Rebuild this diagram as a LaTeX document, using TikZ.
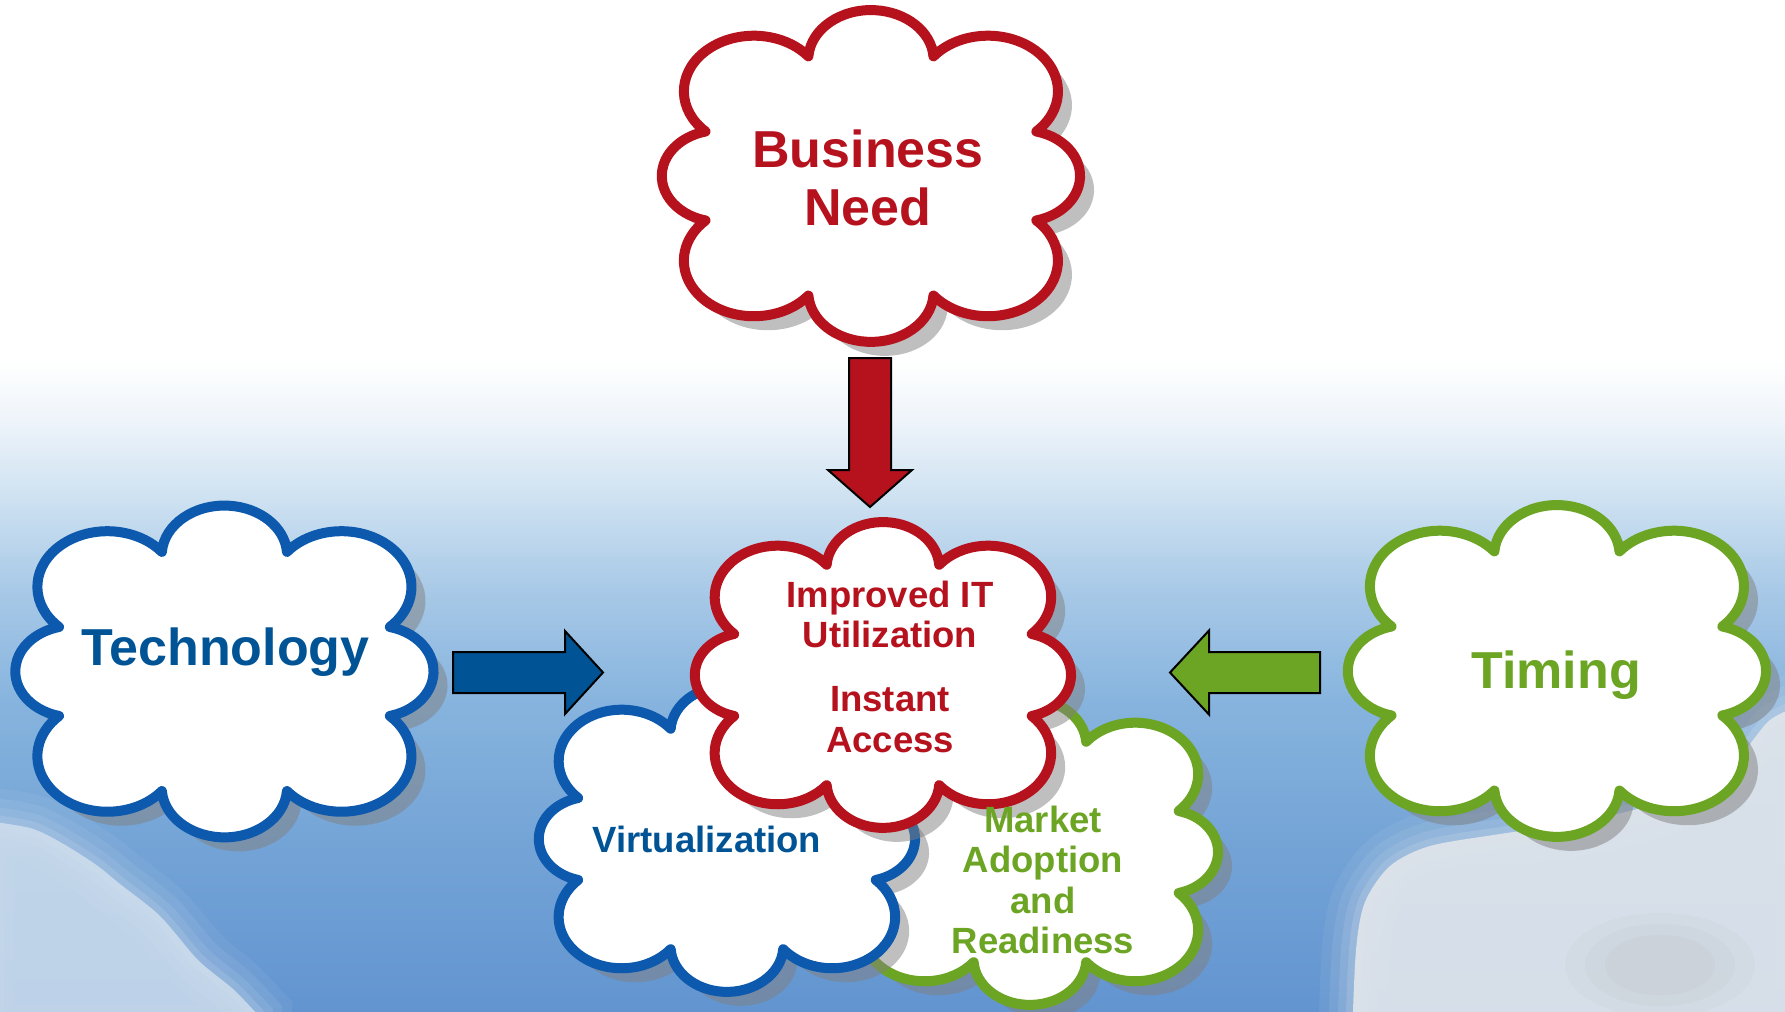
\documentclass[tikz,border=0pt]{standalone}
\usepackage{fontspec}
\setmainfont{Liberation Sans}
\usetikzlibrary{calc}

\definecolor{cred}{RGB}{182,18,30}
\definecolor{cblue}{RGB}{12,89,174}
\definecolor{cbluetext}{RGB}{0,84,150}
\definecolor{cgreen}{RGB}{108,164,36}
\definecolor{skyA}{RGB}{98,148,208}
\definecolor{skyB}{RGB}{115,163,214}
\definecolor{skyC}{RGB}{135,180,222}
\definecolor{skyD}{RGB}{168,201,231}
\definecolor{skyE}{RGB}{205,225,241}
\definecolor{skyF}{RGB}{238,244,250}
\definecolor{bgcl}{RGB}{212,225,238}
\definecolor{bgcr}{RGB}{224,229,235}

\pgfdeclareverticalshading{skyshade}{100bp}{color(0bp)=(skyA); color(25bp)=(skyA); color(33bp)=(skyB); color(40.4bp)=(skyC); color(45.85bp)=(skyD); color(50.3bp)=(skyE); color(54.25bp)=(skyF); color(57.2bp)=(white); color(75bp)=(white); color(100bp)=(white)}

% outline of a cloud in a unit box (eight puffs)
\newcommand\cloudoutline{(0.791,-0.268)
  arc[start angle=-76, end angle=76, radius=0.276]
  arc[start angle=-46.3, end angle=141.1, radius=0.335]
  arc[start angle=4, end angle=176, radius=0.30]
  arc[start angle=38.9, end angle=226.3, radius=0.335]
  arc[start angle=104, end angle=256, radius=0.276]
  arc[start angle=133.7, end angle=321.1, radius=0.335]
  arc[start angle=184, end angle=356, radius=0.30]
  arc[start angle=218.9, end angle=406.3, radius=0.335] -- cycle}

% #1 cx, #2 cy, #3 half width, #4 half height, #5 colour
\newcommand\drawcloud[5]{%
 \begin{scope}[shift={(#1+14,#2+14)}, xscale=#3-5, yscale=#4-5]
  \fill[cloudshadow] \cloudoutline;
 \end{scope}
 \begin{scope}[shift={(#1,#2)}, xscale=#3-5, yscale=#4-5]
  \filldraw[draw=#5, fill=white, line width=5pt, line join=round] \cloudoutline;
 \end{scope}}

\newcommand\bgleft{plot[smooth] coordinates {(-20,820) (30,828) (60,842) (95,864) (120,884) (160,916) (198,960) (233,989) (258,1015)} -- (258,1040) -- (-20,1040) -- cycle}
\newcommand\bgright{plot[smooth] coordinates {(1352,1040) (1356,950) (1365,902) (1390,866) (1430,846) (1500,834) (1580,822) (1660,802) (1730,766) (1770,720) (1810,702)} -- (1810,1040) -- cycle}

\tikzset{
  cloudshadow/.style={fill=black!50, fill opacity=0.5},
  blockarrow/.style={draw=black, line width=1pt, line join=miter},
  bigtext/.style={font=\bfseries\fontsize{26pt}{29pt}\selectfont, align=center, inner sep=0pt},
  smalltext/.style={font=\bfseries\fontsize{18.25pt}{20.25pt}\selectfont, align=center, inner sep=0pt}
}

\begin{document}
\begin{tikzpicture}[x=0.5pt, y=-0.5pt]
\useasboundingbox (0,0) rectangle (1785,1012);
\clip (0,0) rectangle (1785,1012);
\shade[shading=skyshade] (0,0) rectangle (1785,1012);

% soft background clouds
\foreach \lw/\op in {34pt/0.08, 24pt/0.10, 15pt/0.13, 7pt/0.18}{
  \draw[bgcl, line width=\lw, opacity=\op] \bgleft;
  \draw[bgcr, line width=\lw, opacity=\op] \bgright;
}
\fill[bgcl, opacity=0.8] \bgleft;
\fill[bgcr, opacity=0.92] \bgright;
\foreach \r in {95,75,55}{
  \fill[black!35, opacity=0.07] (1660,965) ellipse [x radius=\r, y radius=\r*0.55];
}

% large clouds
\drawcloud{871}{176}{214}{171}{cred}
\drawcloud{224.5}{671.5}{214}{171}{cblue}
\drawcloud{1557}{671}{214}{171}{cgreen}
% central cluster
\drawcloud{1030}{852}{193}{158}{cgreen}
\drawcloud{727}{839}{193}{158}{cblue}
\drawcloud{883}{675}{193}{158}{cred}

% block arrows
\coordinate (bnA) at (870,358);
\coordinate (bnB) at (870,507);
\draw[blockarrow, fill=cred] ($(bnA)+(-21,0)$) -- ($(bnB)+(-21,-37)$) -- ($(bnB)+(-42,-37)$) -- (bnB) -- ($(bnB)+(42,-37)$) -- ($(bnB)+(21,-37)$) -- ($(bnA)+(21,0)$) -- cycle;

\coordinate (teA) at (453,672.5);
\coordinate (teB) at (603,672.5);
\draw[blockarrow, fill=cbluetext] ($(teA)+(0,-20.5)$) -- ($(teB)+(-38,-20.5)$) -- ($(teB)+(-38,-41.5)$) -- (teB) -- ($(teB)+(-38,41.5)$) -- ($(teB)+(-38,20.5)$) -- ($(teA)+(0,20.5)$) -- cycle;

\coordinate (tiA) at (1320,672.5);
\coordinate (tiB) at (1170,672.5);
\draw[blockarrow, fill=cgreen] ($(tiA)+(0,-20.5)$) -- ($(tiB)+(39,-20.5)$) -- ($(tiB)+(39,-42)$) -- (tiB) -- ($(tiB)+(39,42)$) -- ($(tiB)+(39,20.5)$) -- ($(tiA)+(0,20.5)$) -- cycle;

% texts
\node[bigtext, text=cred] (business) at (868,177.5) {Business\\Need};
\node[bigtext, text=cbluetext] (technology) at (225.5,652) {Technology};
\node[bigtext, text=cgreen] (timing) at (1556,675.5) {Timing};
\node[smalltext, text=cred] (improved) at (890,666.5) {Improved IT\\Utilization\\[11.75pt]Instant\\Access};
\node[smalltext, text=cbluetext] (virt) at (707,839.5) {Virtualization};
\node[smalltext, text=cgreen] (market) at (1043,880) {Market\\Adoption\\and\\Readiness};
\end{tikzpicture}
\end{document}
